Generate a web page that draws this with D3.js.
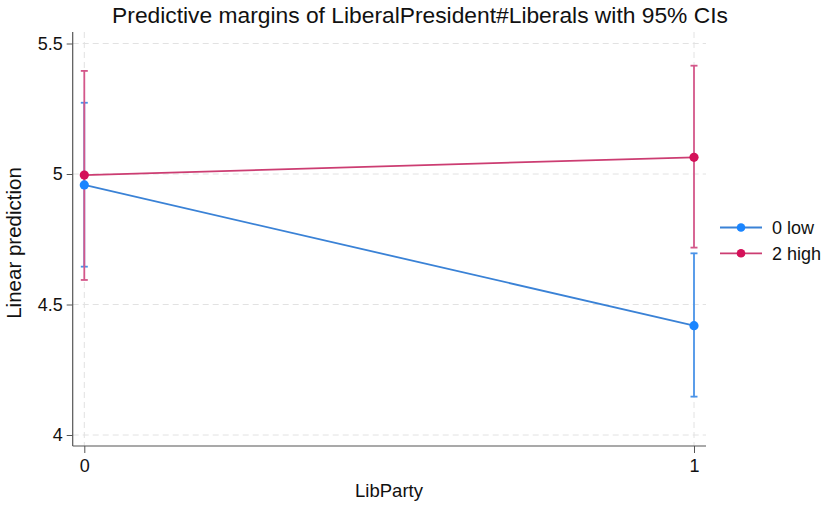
<!DOCTYPE html>
<html>
<head>
<meta charset="utf-8">
<script src="https://cdn.jsdelivr.net/npm/d3@7"></script>
<style>
  html, body { margin: 0; padding: 0; background: #fff; }
  svg { display: block; font-family: "Liberation Sans", Arial, Helvetica, sans-serif; }
</style>
</head>
<body>
<svg id="chart" width="822" height="505"></svg>
<script>
// Predictive margins by LibParty for two levels of Liberals
const libParty = [0, 1];
const seriesNames = ["0 low", "2 high"];
const lowMargin = [4.958, 4.419];
const lowLower = [4.645, 4.147];
const lowUpper = [5.273, 4.696];
const highMargin = [4.996, 5.064];
const highLower = [4.594, 4.718];
const highUpper = [5.395, 5.415];
const yTicks = [4, 4.5, 5, 5.5];
const yTickLabels = ["4", "4.5", "5", "5.5"];
const xTickLabels = ["0", "1"];
const seriesColors = ["#1a85ff", "#d41159"];
const lineColors = ["#3a82d6", "#cc3d72"];
const ciColors = ["#4a93e8", "#d4578a"];

const series = [
  { name: seriesNames[0], m: lowMargin, lo: lowLower, hi: lowUpper, c: seriesColors[0], lc: lineColors[0], cc: ciColors[0] },
  { name: seriesNames[1], m: highMargin, lo: highLower, hi: highUpper, c: seriesColors[1], lc: lineColors[1], cc: ciColors[1] }
];

const svg = d3.select("#chart");
const x = d3.scaleLinear().domain([0, 1]).range([84.3, 694]);
const y = d3.scaleLinear().domain([4, 5.5]).range([435, 43.5]);
const plotLeft = 72.7, plotRight = 706, plotTop = 32, plotBottom = 446;
const fontFam = "Liberation Sans, Arial, sans-serif";

// Title
svg.append("text")
  .attr("x", 420).attr("y", 23)
  .attr("text-anchor", "middle")
  .attr("font-size", 22.8)
  .attr("fill", "#111")
  .text("Predictive margins of LiberalPresident#Liberals with 95% CIs");

// Dashed gridlines
const grid = svg.append("g").attr("stroke", "#e2e2e2").attr("stroke-width", 1).attr("stroke-dasharray", "6,4");
grid.selectAll("line.h").data(yTicks).join("line")
  .attr("x1", plotLeft).attr("x2", plotRight)
  .attr("y1", d => y(d)).attr("y2", d => y(d));
grid.selectAll("line.v").data(libParty).join("line")
  .attr("x1", d => x(d)).attr("x2", d => x(d))
  .attr("y1", plotTop).attr("y2", plotBottom);

// Axes
const yAxis = d3.axisLeft(y).tickValues(yTicks).tickFormat((d, i) => yTickLabels[i]).tickSize(6).tickPadding(4);
const gy = svg.append("g").attr("transform", `translate(${plotLeft},0)`).call(yAxis);
gy.select(".domain").remove();
gy.append("line").attr("x1", 0).attr("x2", 0).attr("y1", plotTop).attr("y2", plotBottom).attr("stroke", "#555").attr("stroke-width", 1.2);
gy.selectAll(".tick line").attr("stroke", "#555");
gy.selectAll(".tick text").attr("font-size", 18).attr("fill", "#111").attr("font-family", fontFam);

const xAxis = d3.axisBottom(x).tickValues(libParty).tickFormat((d, i) => xTickLabels[i]).tickSize(7).tickPadding(6);
const gx = svg.append("g").attr("transform", `translate(0,${plotBottom})`).call(xAxis);
gx.select(".domain").remove();
gx.append("line").attr("x1", plotLeft).attr("x2", plotRight).attr("y1", 0).attr("y2", 0).attr("stroke", "#555").attr("stroke-width", 1.2);
gx.selectAll(".tick line").attr("stroke", "#555");
gx.selectAll(".tick text").attr("font-size", 18).attr("fill", "#111").attr("font-family", fontFam);

// Axis titles
svg.append("text")
  .attr("transform", "translate(21,243) rotate(-90)")
  .attr("text-anchor", "middle")
  .attr("font-size", 20.5).attr("fill", "#111")
  .text("Linear prediction");
svg.append("text")
  .attr("x", 389).attr("y", 497)
  .attr("text-anchor", "middle")
  .attr("font-size", 18.5).attr("fill", "#111")
  .text("LibParty");

// Confidence intervals
const capHalf = 3.5;
series.forEach(s => {
  const g = svg.append("g").attr("stroke", s.cc).attr("stroke-width", 1.8);
  libParty.forEach((p, i) => {
    g.append("line").attr("x1", x(p)).attr("x2", x(p)).attr("y1", y(s.lo[i])).attr("y2", y(s.hi[i]));
    g.append("line").attr("x1", x(p) - capHalf).attr("x2", x(p) + capHalf).attr("y1", y(s.lo[i])).attr("y2", y(s.lo[i]));
    g.append("line").attr("x1", x(p) - capHalf).attr("x2", x(p) + capHalf).attr("y1", y(s.hi[i])).attr("y2", y(s.hi[i]));
  });
});

// Connecting lines and markers
const line = d3.line().x((d, i) => x(libParty[i])).y(d => y(d));
series.forEach(s => {
  svg.append("path").datum(s.m).attr("d", line)
    .attr("fill", "none").attr("stroke", s.lc).attr("stroke-width", 1.8);
  svg.append("g").selectAll("circle").data(s.m).join("circle")
    .attr("cx", (d, i) => x(libParty[i])).attr("cy", d => y(d))
    .attr("r", 4.6).attr("fill", s.c);
});

// Legend
const legend = svg.append("g");
series.forEach((s, i) => {
  const ly = 227.5 + i * 25.8;
  legend.append("line").attr("x1", 720).attr("x2", 762).attr("y1", ly).attr("y2", ly)
    .attr("stroke", s.lc).attr("stroke-width", 1.8);
  legend.append("circle").attr("cx", 741).attr("cy", ly).attr("r", 4.3).attr("fill", s.c);
  legend.append("text").attr("x", 772).attr("y", ly).attr("dy", "0.36em")
    .attr("font-size", 18).attr("fill", "#111").text(s.name);
});
</script>
</body>
</html>
